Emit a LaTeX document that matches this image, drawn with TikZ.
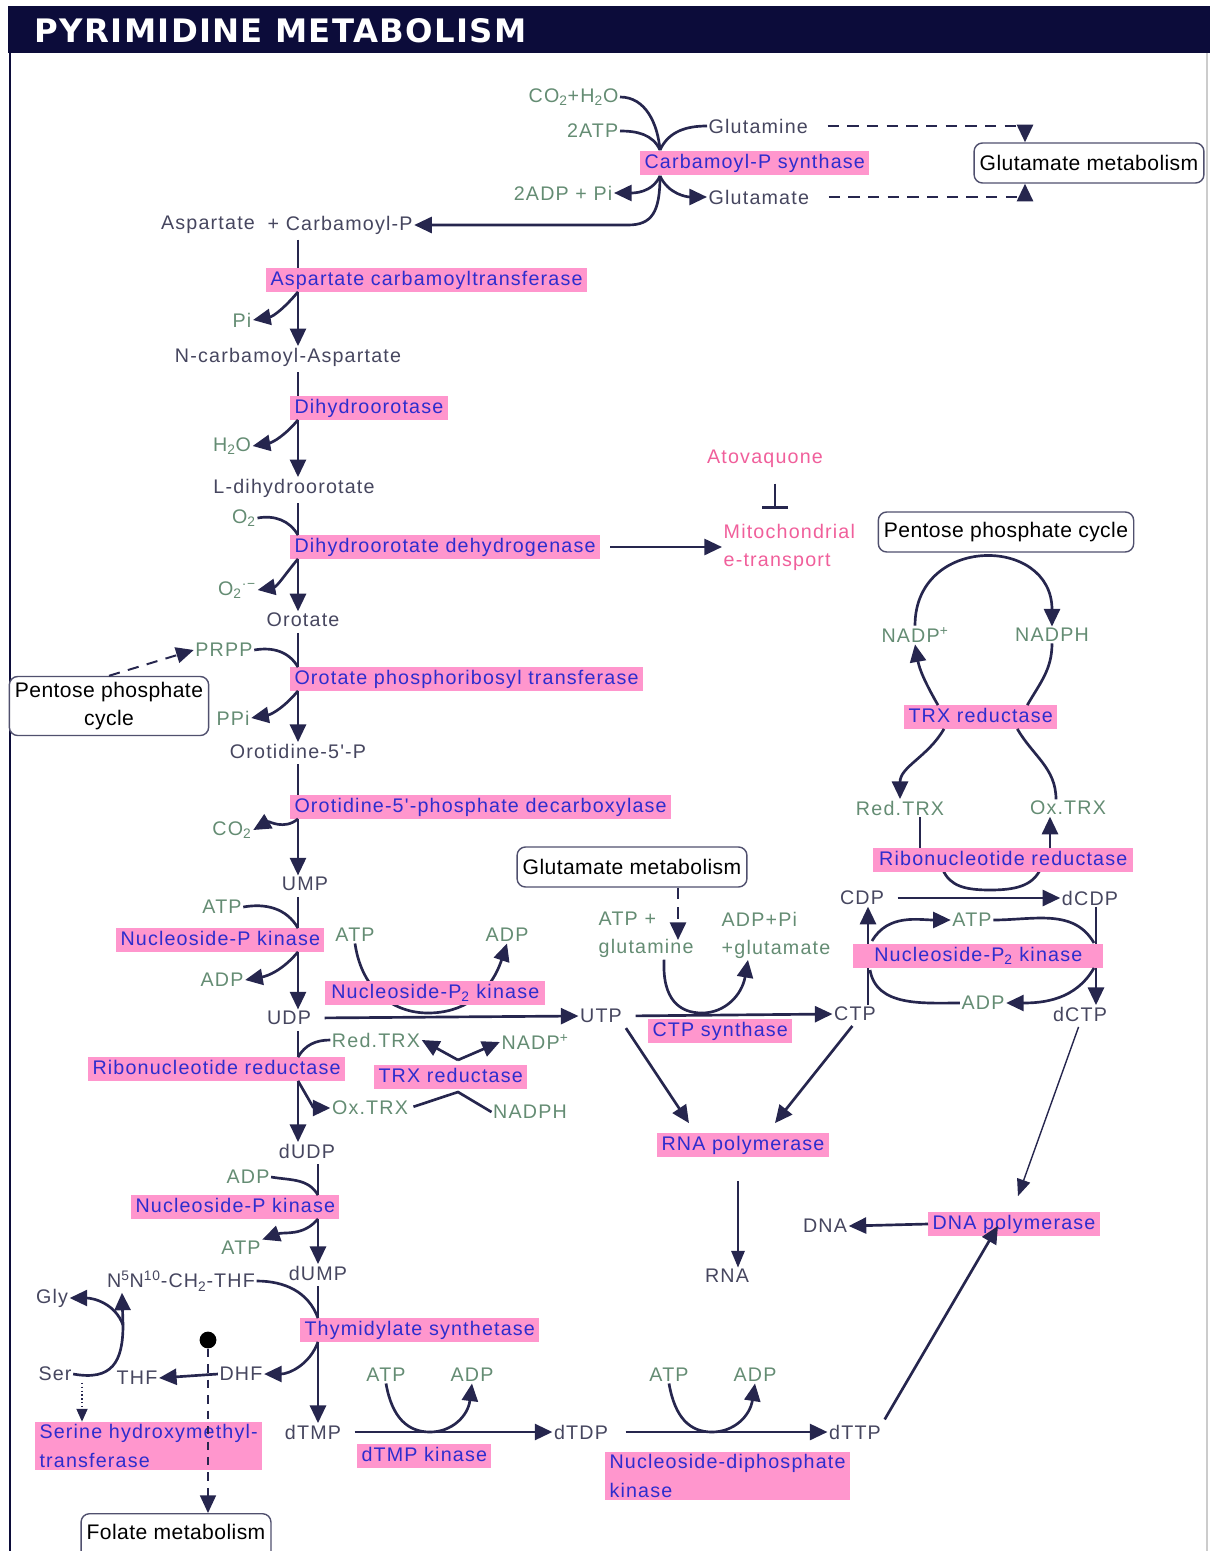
\documentclass[tikz,border=0pt]{standalone}
\usepackage{fontspec}
\setmainfont{Liberation Sans}
\newfontfamily\diagfont[LetterSpace=6]{Liberation Sans}
\newfontfamily\boxfont[LetterSpace=2]{Liberation Sans}
\newfontfamily\titlefont[LetterSpace=4]{DejaVu Sans}
\usetikzlibrary{arrows.meta}
\pgfdeclarelayer{bg}
\pgfsetlayers{bg,main}
\definecolor{navy}{RGB}{12,12,58}
\definecolor{linecol}{RGB}{38,38,78}
\definecolor{enzpink}{RGB}{255,150,205}
\definecolor{enzblue}{RGB}{45,45,205}
\definecolor{metgray}{RGB}{70,70,95}
\definecolor{cofgreen}{RGB}{100,140,115}
\definecolor{drugpink}{RGB}{240,95,155}
\definecolor{boxline}{RGB}{80,80,110}
\newcommand{\labfont}{\diagfont\fontsize{14}{20}\selectfont}
\newcommand{\boxtxt}{\boxfont\fontsize{15}{20}\selectfont}
\tikzset{
  enz/.style={fill=enzpink,text=enzblue,font=\labfont,inner xsep=3pt,inner ysep=1.5pt,text height=10.5pt,text depth=3pt},
  enzml/.style={fill=enzpink,text=enzblue,font=\labfont,inner xsep=3pt,inner ysep=2pt,align=left},
  met/.style={text=metgray,font=\labfont,inner sep=1pt},
  cof/.style={text=cofgreen,font=\labfont,inner sep=1pt},
  drug/.style={text=drugpink,font=\labfont,inner sep=1pt},
  pathbox/.style={draw=boxline,line width=1pt,rounded corners=6pt,fill=white,text=black,font=\boxtxt,inner xsep=4pt,inner ysep=4pt,minimum height=1cm,align=center},
  ln/.style={draw=linecol,line width=1.9pt},
  arr/.style={draw=linecol,line width=1.9pt,-{Triangle[length=0.44cm,width=0.4cm]}},
  thinarr/.style={draw=linecol,line width=1pt,-{Triangle[length=0.42cm,width=0.34cm]}},
  dsharr/.style={arr,dash pattern=on 8pt off 6pt},
  dotarr/.style={draw=linecol,line width=0.8pt,dotted,-{Triangle[length=0.32cm,width=0.28cm]}},
  inh/.style={draw=linecol,line width=1.9pt,-{Bar[width=0.65cm]}}
}
\begin{document}
\begin{tikzpicture}[x=0.025cm,y=-0.025cm]
\useasboundingbox (0,0) rectangle (1213,1551);
% frame and title bar
\fill[navy] (8,6) rectangle (1210,53);
\node[anchor=west,text=white,font=\titlefont\bfseries\fontsize{23}{25}\selectfont] (title) at (30,31) {PYRIMIDINE METABOLISM};
\draw[navy,line width=1.5pt] (10,53) -- (10,1551);
\draw[black!20,line width=1pt] (1207,53) -- (1207,1551);
\coordinate (spine) at (298,0);
\coordinate (spinelow) at (318,0);

% carbamoyl phosphate
\node[cof,anchor=east] (co2h2o) at (620,97) {CO\textsubscript{2}+H\textsubscript{2}O};
\node[cof,anchor=east] (atpx2) at (620,131) {2ATP};
\node[met,anchor=west] (gln) at (707,126) {Glutamine};
\node[enz,anchor=west] (cps) at (640,163) {Carbamoyl-P synthase};
\node[cof,anchor=east] (adpx2) at (614,193) {2ADP + Pi};
\node[met,anchor=west] (glu) at (707,197) {Glutamate};
\node[pathbox] (glumetA) at (1089,163) {Glutamate metabolism};
\node[met] (asp) at (208,225) {Aspartate};
\node[met,anchor=west] (cbp) at (266,225) {+ Carbamoyl-P};
\coordinate (cpsin) at (660,150);
\coordinate (cpsout) at (660,176);
\coordinate (gx) at (1025,0);
\draw[ln] (co2h2o.east) to[out=0,in=95] (cpsin);
\draw[ln] (atpx2.east) to[out=0,in=115] (cpsin);
\draw[ln] (gln.west) to[out=180,in=65] (cpsin);
\draw[arr] (cpsout) to[out=-115,in=0] (adpx2.east);
\draw[arr] (cpsout) to[out=-65,in=180] (glu.west);
\draw[arr] (cpsout) .. controls (660,212) and (652,225) .. (628,225) -- (cbp.east);
\draw[dsharr,shorten <=0.45cm] (gln.east) -| (glumetA.north -| gx);
\draw[dsharr,shorten <=0.45cm] (glu.east) -| (glumetA.south -| gx);

% orotate branch
\node[enz,anchor=west] (act) at (266,280) {Aspartate carbamoyltransferase};
\node[cof] (pi) at (242,320) {Pi};
\node[met] (nca) at (288,357) {N-carbamoyl-Aspartate};
\node[enz,anchor=west] (dho) at (290,408) {Dihydroorotase};
\node[cof] (h2o) at (232,446) {H\textsubscript{2}O};
\node[met] (ldho) at (294,488) {L-dihydroorotate};
\node[cof] (o2) at (244,518) {O\textsubscript{2}};
\node[enz,anchor=west] (dhodh) at (290,547) {Dihydroorotate dehydrogenase};
\node[drug,anchor=west,align=left] (mito) at (722,547) {Mitochondrial\\e-transport};
\node[drug] (atov) at (765,459) {Atovaquone};
\node[cof] (supox) at (237,590) {O\textsubscript{2}\textsuperscript{·−}};
\node[met] (oro) at (303,620) {Orotate};
\node[cof] (prpp) at (224,650) {PRPP};
\node[enz,anchor=west] (opt) at (290,679) {Orotate phosphoribosyl transferase};
\node[pathbox] (ppcA) at (109,706) {Pentose phosphate\\cycle};
\node[cof] (ppi) at (233,718) {PPi};
\node[met] (omp) at (298,751) {Orotidine-5'-P};
\node[enz,anchor=west] (odc) at (290,807) {Orotidine-5'-phosphate decarboxylase};
\node[cof] (co2) at (232,830) {CO\textsubscript{2}};
\coordinate (tbar) at (775,509);
\draw[ln,shorten <=3pt] (asp.south -| spine) -- (act.north -| spine);
\draw[arr] (act.south -| spine) -- (nca.north -| spine);
\draw[arr] (act.south -| spine) to[out=-130,in=10] (pi.east);
\draw[ln,shorten <=3pt] (nca.south -| spine) -- (dho.north -| spine);
\draw[arr] (dho.south -| spine) -- (ldho.north -| spine);
\draw[arr] (dho.south -| spine) to[out=-130,in=10] (h2o.east);
\draw[ln,shorten <=3pt] (ldho.south -| spine) -- (dhodh.north -| spine);
\draw[ln] (o2.east) to[out=10,in=120] (dhodh.north -| spine);
\draw[arr,shorten <=0.25cm] (dhodh.east) -- (mito.west);
\draw[inh,shorten <=0.35cm] (atov.south -| tbar) -- (tbar);
\draw[arr] (dhodh.south -| spine) -- (oro.north -| spine);
\draw[arr] (dhodh.south -| spine) to[out=-130,in=10] (supox.east);
\draw[ln,shorten <=3pt] (oro.south -| spine) -- (opt.north -| spine);
\draw[ln] (prpp.east) to[out=10,in=120] (opt.north -| spine);
\draw[dsharr,line width=1.4pt] (ppcA.north) -- (prpp.west);
\draw[arr] (opt.south -| spine) -- (omp.north -| spine);
\draw[arr] (opt.south -| spine) to[out=-130,in=10] (ppi.east);
\draw[ln,shorten <=3pt] (omp.south -| spine) -- (odc.north -| spine);
\draw[arr] (odc.south -| spine) to[out=-140,in=30] (co2.east);

% UMP to dUDP
\node[met] (ump) at (305,884) {UMP};
\node[cof] (atpA) at (222,907) {ATP};
\node[enz,anchor=west] (npkA) at (116,940) {Nucleoside-P kinase};
\node[cof] (adpA) at (222,980) {ADP};
\node[met] (udp) at (289,1018) {UDP};
\node[cof] (atpB) at (355,935) {ATP};
\node[cof] (adpB) at (507,935) {ADP};
\node[met] (utp) at (601,1016) {UTP};
\node[cof] (redtrxA) at (376,1040) {Red.TRX};
\node[cof] (nadpA) at (535,1042) {NADP\textsuperscript{+}};
\node[enz,anchor=west] (rnrA) at (88,1069) {Ribonucleotide reductase};
\node[enz,anchor=west] (trxrA) at (374,1077) {TRX reductase};
\node[cof] (oxtrxA) at (370,1108) {Ox.TRX};
\node[cof] (nadphA) at (530,1112) {NADPH};
\node[met] (dudp) at (307,1151) {dUDP};
\coordinate (kinA) at (428,1013);
\coordinate (trxv) at (458,1060);
\coordinate (trxl) at (458,1092);
\begin{pgfonlayer}{bg}
\draw[ln] (atpB.south) .. controls (362,992) and (395,1013) .. (kinA);
\draw[arr] (kinA) .. controls (462,1013) and (490,995) .. (adpB.south);
\end{pgfonlayer}
\node[enz,anchor=west,minimum width=5.5cm] (nppkA) at (325,993) {Nucleoside-P\textsubscript{2} kinase};
\draw[arr] (odc.south -| spine) -- (ump.north -| spine);
\draw[ln,shorten <=3pt] (ump.south -| spine) -- (npkA.north -| spine);
\draw[ln] (atpA.east) to[out=10,in=120] (npkA.north -| spine);
\draw[arr] (npkA.south -| spine) -- (udp.north -| spine);
\draw[arr] (npkA.south -| spine) to[out=-130,in=10] (adpA.east);
\draw[arr,shorten <=0.3cm] (udp.east) -- (utp.west);
\draw[ln,shorten <=3pt] (udp.south -| spine) -- (rnrA.north -| spine);
\draw[ln] (redtrxA.west) to[out=180,in=60] (rnrA.north -| spine);
\draw[arr] (rnrA.south -| spine) -- (dudp.north -| spine);
\draw[arr] (rnrA.south -| spine) to[out=-60,in=180] (oxtrxA.west);
\draw[arr] (trxv) -- (redtrxA.east);
\draw[arr] (trxv) -- (nadpA.west);
\draw[ln,shorten <=0.1cm] (oxtrxA.east) -- (trxl) -- (nadphA.west);

% dUDP to dTMP
\node[cof] (adpC) at (248,1177) {ADP};
\node[enz,anchor=west] (npkB) at (131,1207) {Nucleoside-P kinase};
\node[cof] (atpC) at (241,1248) {ATP};
\node[met] (dump) at (318,1273) {dUMP};
\node[met] (mthf) at (181,1281) {N\textsuperscript{5}N\textsuperscript{10}-CH\textsubscript{2}-THF};
\node[enz,anchor=west] (ts) at (300,1330) {Thymidylate synthetase};
\node[met] (gly) at (52,1298) {Gly};
\node[met] (ser) at (55,1374) {Ser};
\node[met] (thf) at (137,1378) {THF};
\node[met] (dhf) at (241,1374) {DHF};
\node[circle,fill=black,inner sep=0pt,minimum size=0.42cm] (fdot) at (208,1340) {};
\node[enzml,anchor=west,minimum height=1.2cm] (shmt) at (35,1446) {Serine hydroxymethyl-\\transferase};
\node[pathbox,anchor=north,minimum height=1.3cm,text depth=0.4cm] (folate) at (176,1513) {Folate metabolism};
\node[met] (dtmp) at (313,1432) {dTMP};
\coordinate (fx) at (122,0);
\coordinate (sx) at (82,0);
\coordinate (gj) at (123,1325);
\draw[ln,shorten <=3pt] (dudp.south -| spinelow) -- (npkB.north -| spinelow);
\draw[ln] (adpC.east) to[out=-10,in=120] (npkB.north -| spinelow);
\draw[arr] (npkB.south -| spinelow) -- (dump.north -| spinelow);
\draw[arr] (npkB.south -| spinelow) to[out=-130,in=20] (atpC.north east);
\draw[ln,shorten <=3pt] (dump.south -| spinelow) -- (ts.north -| spinelow);
\draw[ln] (mthf.east) to[out=0,in=110] (ts.north -| spinelow);
\draw[arr] (ts.south -| spinelow) -- (dtmp.north -| spinelow);
\draw[arr] (ts.south -| spinelow) to[out=-110,in=0] (dhf.east);
\draw[arr] (dhf.west) -- (thf.east);
\draw[arr] (ser.east) .. controls (112,1381) and (123,1362) .. (gj) -- (mthf.south -| fx);
\draw[arr] (gj) to[out=110,in=0] (gly.east);
\draw[dotarr] (ser.south -| sx) -- (shmt.north -| sx);
\draw[dsharr,line width=1pt,dash pattern=on 6pt off 5pt] (fdot.south) -- (folate.north -| fdot.south);

% dTMP to dTTP
\node[cof] (atpD) at (386,1375) {ATP};
\node[cof] (adpD) at (472,1375) {ADP};
\node[enz,anchor=west] (tmk) at (357,1456) {dTMP kinase};
\node[met] (dtdp) at (581,1432) {dTDP};
\node[cof] (atpE) at (669,1375) {ATP};
\node[cof] (adpE) at (755,1375) {ADP};
\node[enzml,anchor=west,minimum height=1.2cm] (ndk) at (605,1476) {Nucleoside-diphosphate\\kinase};
\node[met] (dttp) at (855,1432) {dTTP};
\node[enz,anchor=west] (dnapol) at (928,1224) {DNA polymerase};
\node[met] (dna) at (825,1226) {DNA};
\coordinate (kinB) at (430,1432);
\coordinate (kinC) at (712,1432);
\draw[arr,shorten <=0.3cm] (dtmp.east) -- (dtdp.west);
\draw[ln] (atpD.south) .. controls (392,1418) and (408,1432) .. (kinB);
\draw[arr] (kinB) .. controls (452,1432) and (468,1416) .. (adpD.south);
\draw[arr,shorten <=0.4cm] (dtdp.east) -- (dttp.west);
\draw[ln] (atpE.south) .. controls (675,1418) and (690,1432) .. (kinC);
\draw[arr] (kinC) .. controls (734,1432) and (750,1416) .. (adpE.south);
\draw[arr,shorten <=3pt] (dttp.north east) -- ([xshift=-0.4cm,yshift=0.25cm]dnapol.south);
\draw[arr] (dnapol.west) -- (dna.east);

% UTP to CTP, RNA
\node[pathbox] (glumetB) at (632,867) {Glutamate metabolism};
\node[cof,anchor=west,align=left] (atpgln) at (597,935) {ATP +\\glutamine};
\node[cof,anchor=west,align=left] (adpglu) at (720,935) {ADP+Pi\\+glutamate};
\node[enz,anchor=west] (ctps) at (648,1031) {CTP synthase};
\node[met] (ctp) at (855,1014) {CTP};
\node[enz,anchor=west] (rnapol) at (657,1145) {RNA polymerase};
\node[met] (rna) at (727,1276) {RNA};
\coordinate (glnin) at (678,940);
\coordinate (kinD) at (702,1013);
\coordinate (rx) at (738,0);
\draw[dsharr] (glumetB.south -| glnin) -- (glnin);
\draw[arr,shorten <=0.3cm] (utp.east) -- (ctp.west);
\draw[ln] ([xshift=0.45cm]atpgln.south) .. controls (662,1000) and (680,1013) .. (kinD);
\draw[arr] (kinD) .. controls (725,1013) and (742,995) .. ([xshift=-0.7cm]adpglu.south);
\draw[arr,shorten <=3pt] (utp.south east) -- ([xshift=-1.35cm,yshift=0.25cm]rnapol.north);
\draw[arr,shorten <=3pt] (ctp.south) -- ([xshift=0.8cm,yshift=0.25cm]rnapol.north);
\draw[thinarr,shorten <=0.6cm] (rnapol.south -| rx) -- (rna.north -| rx);

% TRX cycle and CDP to dCTP
\node[pathbox] (ppcB) at (1006,532) {Pentose phosphate cycle};
\node[cof] (nadpB) at (915,635) {NADP\textsuperscript{+}};
\node[cof] (nadphB) at (1052,635) {NADPH};
\node[enz,anchor=west] (trxrB) at (904,717) {TRX reductase};
\node[cof] (redtrxB) at (900,808) {Red.TRX};
\node[cof] (oxtrxB) at (1068,808) {Ox.TRX};
\node[met] (cdp) at (862,898) {CDP};
\node[met] (dcdp) at (1090,898) {dCDP};
\node[cof] (atpF) at (972,920) {ATP};
\node[cof] (adpF) at (983,1003) {ADP};
\node[met] (dctp) at (1080,1014) {dCTP};
\coordinate (cx) at (868,0);
\coordinate (dx) at (1096,0);
\coordinate (oxx) at (1050,0);
\coordinate (rdA) at (943,870);
\coordinate (rdB) at (990,890);
\coordinate (rdC) at (1040,870);
\coordinate (cjA) at (872,941);
\coordinate (cjB) at (870,970);
\coordinate (djA) at (1094,943);
\coordinate (djB) at (1094,968);
\begin{pgfonlayer}{bg}
\draw[ln] (rdA) .. controls (950,886) and (965,890) .. (rdB) .. controls (1015,890) and (1032,886) .. (rdC);
\draw[arr] (ctp.north -| cx) -- (cdp.south -| cx);
\draw[arr] (dcdp.south -| dx) -- (dctp.north -| dx);
\end{pgfonlayer}
\node[enz,anchor=west,minimum width=6.5cm] (rnrB) at (873,860) {Ribonucleotide reductase};
\node[enz,anchor=west,minimum width=6.25cm] (nppkB) at (853,956) {Nucleoside-P\textsubscript{2} kinase};
\draw[arr] (nadpB.north) to[out=90,in=90,looseness=1.7] (nadphB.north);
\draw[ln] (nadphB.south) to[out=-90,in=60] ([xshift=-0.75cm]trxrB.north east);
\draw[arr] ([xshift=0.85cm]trxrB.north west) to[out=120,in=-80] (nadpB.south);
\draw[arr] ([xshift=1.0cm]trxrB.south west) to[out=-120,in=90] (redtrxB.north);
\draw[ln] ([xshift=-1.0cm]trxrB.south east) to[out=-60,in=90] ([xshift=-0.3cm]oxtrxB.north);
\draw[ln] ([xshift=0.5cm]redtrxB.south) -- ([xshift=0.5cm]redtrxB.south |- rnrB.north);
\draw[arr] (rnrB.north -| oxx) -- (oxtrxB.south -| oxx);
\draw[arr,shorten <=0.3cm] (cdp.east) -- (dcdp.west);
\draw[arr] (cjA) to[out=60,in=180] (atpF.west);
\draw[ln] (atpF.east) to[out=0,in=120] (djA);
\draw[arr] (djB) to[out=-120,in=0] (adpF.east);
\draw[ln] (cjB) to[out=-80,in=180] (adpF.west);
\draw[thinarr,shorten <=3pt] (dctp.south) -- ([xshift=0.1cm,yshift=0.4cm]dnapol.north);
\end{tikzpicture}
\end{document}
